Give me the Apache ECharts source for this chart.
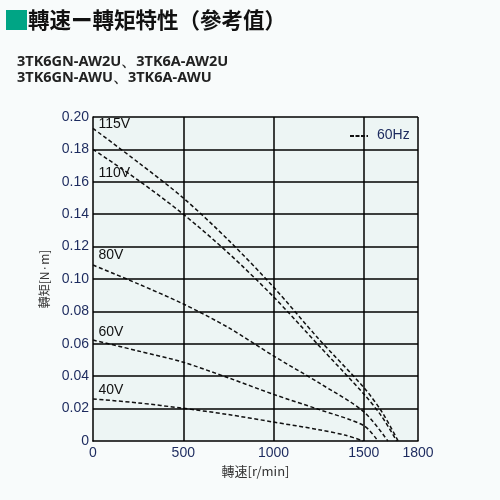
<!DOCTYPE html>
<html>
<head>
<meta charset="utf-8">
<script src="https://cdn.jsdelivr.net/npm/echarts@6/dist/echarts.min.js"></script>
<style>
  html, body { margin: 0; padding: 0; background: #f8fbfb; }
  #chart { width: 500px; height: 500px; }
</style>
</head>
<body>
<div id="chart"></div>
<script>
// Speed (r/min) vs torque (N·m) curves, 60Hz, by supply voltage
const v115 = [[0, 0.193], [250, 0.172], [500, 0.150], [750, 0.124], [1000, 0.095], [1250, 0.063], [1500, 0.033], [1600, 0.018], [1690, 0]];
const v110 = [[0, 0.180], [250, 0.161], [500, 0.140], [750, 0.116], [1000, 0.089], [1250, 0.059], [1500, 0.029], [1600, 0.015], [1682, 0]];
const v80  = [[0, 0.1086], [250, 0.097], [500, 0.0846], [750, 0.070], [1000, 0.0525], [1250, 0.036], [1500, 0.018], [1633, 0]];
const v60  = [[0, 0.0623], [250, 0.0556], [500, 0.0486], [750, 0.039], [1000, 0.0288], [1250, 0.0195], [1500, 0.0095], [1578, 0]];
const v40  = [[0, 0.026], [250, 0.0235], [500, 0.0202], [750, 0.0163], [1000, 0.0117], [1250, 0.0070], [1400, 0.0035], [1497, 0]];

const seriesNames = ['115V', '110V', '80V', '60V', '40V'];
const seriesData = [v115, v110, v80, v60, v40];
// where each voltage tag sits (speed, torque)
const tagAnchors = [[30, 0.1955], [30, 0.1655], [30, 0.1145], [30, 0.0675], [30, 0.0317]];

const xTicks = [0, 500, 1000, 1500, 1800];
const yTicks = [0, 0.02, 0.04, 0.06, 0.08, 0.10, 0.12, 0.14, 0.16, 0.18, 0.20];

const numFont = '"Liberation Sans", Arial, sans-serif';
const cjkFont = '"Noto Sans CJK JP", "Noto Sans CJK TC", sans-serif';
const tickColor = '#1c2a5e';

const chart = echarts.init(document.getElementById('chart'));

const lineSeries = seriesData.map((d, i) => ({
  type: 'line',
  name: seriesNames[i],
  data: d,
  smooth: 0.3,
  symbol: 'none',
  silent: true,
  lineStyle: { color: '#111', width: 1.5, type: [4, 2.5] },
  z: 3
}));

chart.setOption({
  backgroundColor: '#f8fbfb',
  animation: false,
  grid: { left: 93, right: 82, top: 117, bottom: 59, show: true, backgroundColor: '#edf5f4', borderWidth: 0 },
  xAxis: {
    type: 'value', min: 0, max: 1800,
    name: '轉速[r/min]', nameLocation: 'middle', nameGap: 21,
    nameTextStyle: { fontFamily: cjkFont, fontSize: 13, color: '#333' },
    axisLine: { show: true, lineStyle: { color: '#000', width: 1.5 } },
    axisTick: { show: false },
    axisLabel: {
      fontFamily: numFont, fontSize: 14, color: tickColor, margin: 5,
      customValues: xTicks,
      formatter: v => String(v)
    },
    splitLine: { show: false }
  },
  yAxis: {
    type: 'value', min: 0, max: 0.2, interval: 0.02,
    name: '轉矩[N·m]', nameLocation: 'middle', nameGap: 33, nameRotate: 90,
    nameTextStyle: { fontFamily: cjkFont, fontSize: 12, color: '#333' },
    axisLine: { show: true, lineStyle: { color: '#000', width: 1.5 } },
    axisTick: { show: false },
    axisLabel: {
      fontFamily: numFont, fontSize: 14, color: tickColor, margin: 4,
      formatter: v => (v === 0 ? '0' : v.toFixed(2))
    },
    splitLine: { show: false }
  },
  series: [
    ...lineSeries,
    // vertical grid lines at tick speeds
    {
      type: 'line', data: [], silent: true,
      markLine: {
        silent: true, symbol: 'none', animation: false,
        lineStyle: { color: '#000', width: 1.5, type: 'solid' },
        label: { show: false },
        data: xTicks.filter(v => v > 0).map(v => ({ xAxis: v }))
      },
      z: 2
    },
    // horizontal grid lines at tick torques
    {
      type: 'line', data: [], silent: true,
      markLine: {
        silent: true, symbol: 'none', animation: false,
        lineStyle: { color: '#000', width: 1.5, type: 'solid' },
        label: { show: false },
        data: yTicks.filter(v => v > 0).map(v => ({ yAxis: v }))
      },
      z: 2
    },
    // voltage tags
    {
      type: 'scatter', symbolSize: 0, silent: true,
      itemStyle: { opacity: 1 },
      data: tagAnchors.map((p, i) => ({ value: p, name: seriesNames[i] })),
      label: {
        show: true, position: 'right', distance: 0,
        formatter: p => p.name,
        fontFamily: numFont, fontSize: 14, color: '#111',
        textBorderWidth: 0, opacity: 1
      },
      z: 4
    }
  ],
  graphic: [
    { type: 'rect', left: 6, top: 10, shape: { width: 21, height: 20 }, style: { fill: '#00a585' } },
    { type: 'text', left: 28, top: 9, style: { text: '轉速ー轉矩特性（參考值）', font: 'bold 21.5px ' + cjkFont, fill: '#111' } },
    { type: 'text', left: 17, top: 54, style: { text: '3TK6GN-AW2U、3TK6A-AW2U', font: 'bold 14.5px "Noto Sans", "DejaVu Sans", sans-serif', fill: '#222' } },
    { type: 'text', left: 17, top: 70, style: { text: '3TK6GN-AWU、3TK6A-AWU', font: 'bold 14.5px "Noto Sans", "DejaVu Sans", sans-serif', fill: '#222' } },
    // legend
    { type: 'line', shape: { x1: 350, y1: 136, x2: 368, y2: 136 }, style: { stroke: '#111', lineWidth: 2, lineDash: [4, 1.5] }, z: 10 },
    { type: 'text', left: 377, top: 128, style: { text: '60Hz', font: '14px ' + numFont, fill: tickColor }, z: 10 }
  ]
});
</script>
</body>
</html>
